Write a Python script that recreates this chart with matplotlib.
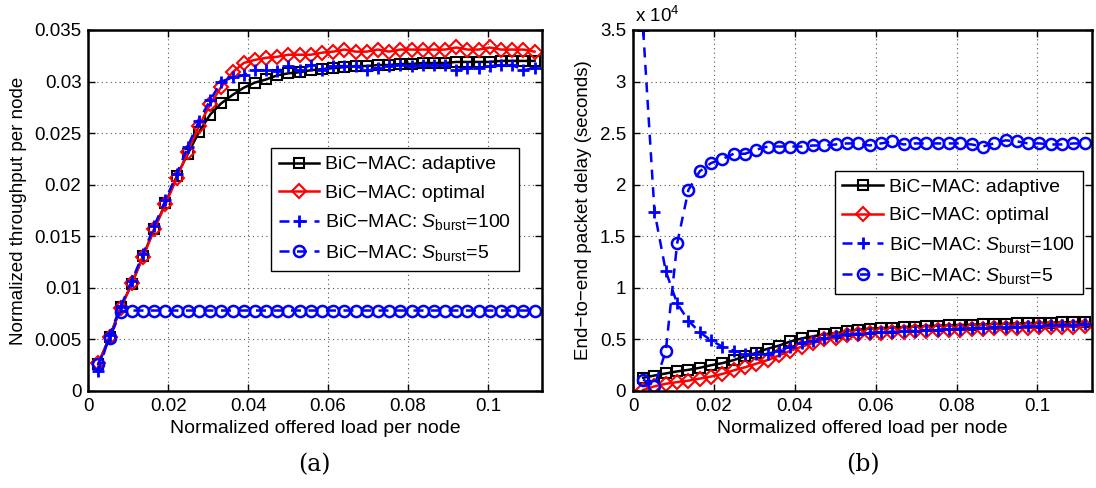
import matplotlib
matplotlib.use('Agg')
import matplotlib.pyplot as plt

plt.rcParams['font.family'] = ['Liberation Sans', 'DejaVu Sans']
plt.rcParams['mathtext.fontset'] = 'custom'
plt.rcParams['mathtext.it'] = 'Liberation Sans:italic'
plt.rcParams['mathtext.rm'] = 'Liberation Sans'

# offered load per node (x axis, same for both panels)
load = [0.0025, 0.0053, 0.0081, 0.0109, 0.0137, 0.0165, 0.0193, 0.0221, 0.0249, 0.0277,
        0.0305, 0.0333, 0.0361, 0.0389, 0.0417, 0.0445, 0.0473, 0.0501, 0.0529, 0.0557,
        0.0585, 0.0613, 0.0641, 0.0669, 0.0697, 0.0725, 0.0753, 0.0781, 0.0809, 0.0837,
        0.0865, 0.0893, 0.0921, 0.0949, 0.0977, 0.1005, 0.1033, 0.1061, 0.1089, 0.1117]

# (a) throughput per node
thr_adaptive = [0.0026, 0.0052, 0.0081, 0.0104, 0.0131, 0.0157, 0.0182, 0.0208, 0.0230, 0.0251,
                0.0268, 0.0279, 0.0287, 0.0294, 0.0299, 0.0302, 0.0306, 0.0308, 0.0309, 0.0311,
                0.0312, 0.0313, 0.0314, 0.0315, 0.0315, 0.0316, 0.0316, 0.0317, 0.0317, 0.0318,
                0.0318, 0.0318, 0.0319, 0.0319, 0.0319, 0.0319, 0.0320, 0.0320, 0.0320, 0.0320]
thr_optimal = [0.0027, 0.0052, 0.0080, 0.0105, 0.0130, 0.0157, 0.0181, 0.0206, 0.0232, 0.0257,
               0.0278, 0.0295, 0.0309, 0.0318, 0.0321, 0.0323, 0.0324, 0.0326, 0.0326, 0.0326,
               0.0328, 0.0329, 0.0331, 0.0329, 0.0329, 0.0331, 0.0329, 0.0331, 0.0331, 0.0331,
               0.0331, 0.0331, 0.0333, 0.0331, 0.0331, 0.0333, 0.0331, 0.0331, 0.0331, 0.0329]
thr_s100 = [0.0019, 0.0054, 0.0082, 0.0107, 0.0133, 0.0160, 0.0185, 0.0210, 0.0237, 0.0262,
            0.0282, 0.0300, 0.0304, 0.0306, 0.0311, 0.0311, 0.0310, 0.0315, 0.0311, 0.0316,
            0.0311, 0.0315, 0.0315, 0.0315, 0.0311, 0.0313, 0.0315, 0.0316, 0.0315, 0.0316,
            0.0316, 0.0316, 0.0311, 0.0313, 0.0313, 0.0315, 0.0316, 0.0316, 0.0311, 0.0313]
thr_s5 = [0.0026, 0.0051, 0.0077, 0.0078, 0.0078, 0.0078, 0.0078, 0.0078, 0.0078, 0.0078,
          0.0078, 0.0078, 0.0078, 0.0078, 0.0078, 0.0078, 0.0078, 0.0078, 0.0078, 0.0078,
          0.0078, 0.0078, 0.0078, 0.0078, 0.0078, 0.0078, 0.0078, 0.0078, 0.0078, 0.0078,
          0.0078, 0.0078, 0.0078, 0.0078, 0.0078, 0.0078, 0.0078, 0.0078, 0.0078, 0.0078]

# (b) end-to-end delay, in units of 1e4 seconds
dly_adaptive = [0.128, 0.150, 0.170, 0.190, 0.205, 0.225, 0.250, 0.270, 0.300, 0.335,
                0.370, 0.410, 0.440, 0.480, 0.510, 0.530, 0.550, 0.560, 0.580, 0.595,
                0.605, 0.610, 0.615, 0.620, 0.625, 0.630, 0.633, 0.637, 0.640, 0.643,
                0.646, 0.649, 0.652, 0.655, 0.658, 0.660, 0.663, 0.665, 0.668, 0.670]
dly_optimal = [0.010, 0.045, 0.070, 0.086, 0.100, 0.120, 0.140, 0.165, 0.200, 0.230,
               0.265, 0.300, 0.345, 0.390, 0.430, 0.465, 0.500, 0.515, 0.540, 0.555,
               0.560, 0.565, 0.570, 0.575, 0.580, 0.585, 0.590, 0.593, 0.596, 0.600,
               0.603, 0.606, 0.609, 0.612, 0.615, 0.618, 0.620, 0.622, 0.625, 0.627]
dly_s100 = [3.500, 1.740, 1.160, 0.850, 0.680, 0.570, 0.490, 0.430, 0.390, 0.360,
            0.355, 0.360, 0.390, 0.430, 0.465, 0.485, 0.515, 0.530, 0.550, 0.556,
            0.565, 0.570, 0.575, 0.580, 0.585, 0.590, 0.595, 0.600, 0.605, 0.610,
            0.613, 0.617, 0.620, 0.625, 0.628, 0.632, 0.636, 0.640, 0.643, 0.647]
dly_s5 = [0.110, 0.050, 0.390, 1.430, 1.950, 2.130, 2.210, 2.250, 2.300, 2.300,
          2.340, 2.370, 2.370, 2.370, 2.370, 2.380, 2.380, 2.390, 2.400, 2.400,
          2.380, 2.400, 2.420, 2.390, 2.400, 2.400, 2.400, 2.400, 2.400, 2.390,
          2.370, 2.400, 2.430, 2.420, 2.400, 2.400, 2.390, 2.390, 2.400, 2.400]

labels = ['BiC\u2212MAC: adaptive', 'BiC\u2212MAC: optimal',
          'BiC\u2212MAC: $S_{\\mathrm{burst}}$=100', 'BiC\u2212MAC: $S_{\\mathrm{burst}}$=5']

FS = 13.5

def draw( ax, ys ):
	a, o, s100, s5 = ys
	ax.plot( load, a, color='black', lw=1.8, marker='s', ms=7, mfc='none', mew=1.5, label=labels[ 0 ] )
	ax.plot( load, o, color='red', lw=1.8, marker='D', ms=7.5, mfc='none', mew=1.5, label=labels[ 1 ] )
	ax.plot( load, s100, color='blue', lw=1.8, ls=(0, (4, 3)), marker='+', ms=9, mew=2, label=labels[ 2 ] )
	ax.plot( load, s5, color='blue', lw=1.8, ls=(0, (4, 3)), marker='o', ms=8, mfc='none', mew=1.8, label=labels[ 3 ] )
	ax.set_xlim( 0, 0.1135 )
	ax.set_xticks( [ 0, 0.02, 0.04, 0.06, 0.08, 0.1 ] )
	ax.set_xticklabels( [ '0', '0.02', '0.04', '0.06', '0.08', '0.1' ] )
	ax.grid( True, ls=(0, (1, 3)), color='#555555', lw=0.8 )
	ax.tick_params( direction='in', top=True, right=True, labelsize=FS, length=5, width=1, pad=5 )
	for sp in ax.spines.values() : sp.set_linewidth( 1.8 )
	ax.set_xlabel( 'Normalized offered load per node', fontsize=14, labelpad=4 )

def legend( ax, anchor ):
	lg = ax.legend( loc='upper right', bbox_to_anchor=anchor, fontsize=14, frameon=True,
	                fancybox=False, edgecolor='black', framealpha=1, handlelength=2.1,
	                borderpad=0.4, labelspacing=0.55, handletextpad=0.3, borderaxespad=0 )
	lg.get_frame().set_linewidth( 1.0 )

fig = plt.figure( figsize=( 10.96, 4.88 ), dpi=100 )
ax1 = fig.add_axes( [ 0.0806, 0.1988, 0.4137, 0.7398 ] )
ax2 = fig.add_axes( [ 0.5776, 0.1988, 0.4188, 0.7398 ] )

draw( ax1, ( thr_adaptive, thr_optimal, thr_s100, thr_s5 ) )
ax1.set_ylim( 0, 0.035 )
ax1.set_yticks( [ 0, 0.005, 0.01, 0.015, 0.02, 0.025, 0.03, 0.035 ] )
ax1.set_yticklabels( [ '0', '0.005', '0.01', '0.015', '0.02', '0.025', '0.03', '0.035' ] )
ax1.set_ylabel( 'Normalized throughput per node', fontsize=FS, labelpad=5 )
legend( ax1, ( 0.95, 0.673 ) )

draw( ax2, ( dly_adaptive, dly_optimal, dly_s100, dly_s5 ) )
ax2.set_ylim( 0, 3.5 )
ax2.set_yticks( [ 0, 0.5, 1, 1.5, 2, 2.5, 3, 3.5 ] )
ax2.set_yticklabels( [ '0', '0.5', '1', '1.5', '2', '2.5', '3', '3.5' ] )
ax2.set_ylabel( 'End\u2212to\u2212end packet delay (seconds)', fontsize=FS, labelpad=6 )
ax2.text( 0.004, 1.012, 'x 10$^{4}$', transform=ax2.transAxes, fontsize=FS, ha='left', va='bottom' )
legend( ax2, ( 0.98, 0.61 ) )

fig.text( 0.287, 0.035, '(a)', fontsize=17, family='DejaVu Serif', ha='center' )
fig.text( 0.787, 0.035, '(b)', fontsize=17, family='DejaVu Serif', ha='center' )

fig.savefig( 'out.png', dpi=100 )
